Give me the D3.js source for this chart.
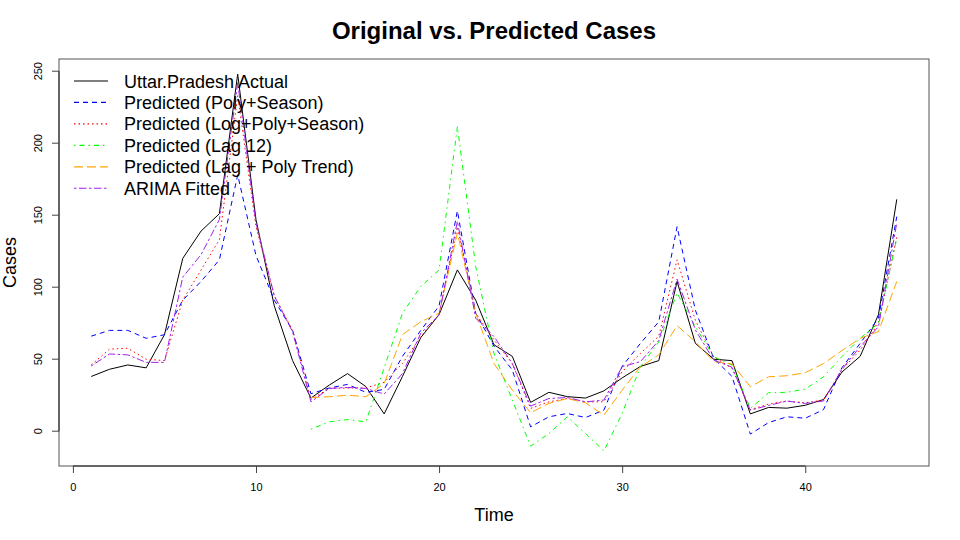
<!DOCTYPE html>
<html lang="en">
<head>
    <meta charset="UTF-8">
    <title>Original vs. Predicted Cases</title>
    <script src="https://cdn.jsdelivr.net/npm/d3@7"></script>
    <style>
        body { margin: 0; background: #fff; }
        svg { font-family: "Liberation Sans", Arial, sans-serif; }
    </style>
</head>
<body>
<div id="chart"></div>
<script>
    // time index (months)
    const time = [1,2,3,4,5,6,7,8,9,10,11,12,13,14,15,16,17,18,19,20,21,22,23,24,25,26,27,28,29,30,31,32,33,34,35,36,37,38,39,40,41,42,43,44,45]

    const actual = [38,43,46,44,67,120,139,151,248,147,87,49,23,32,40,31,12,38,65,81,112,91,60,52,20,27,24,23,28,37,45,49,104,61,50,49,12,16.5,16,18,22,41,52,81,161]
    const polySeason = [66,70,70,64.5,67,91,104,119,178,122,91,70,26,30,32.5,27,29,52,70,87,153,82,59,42.5,3,10,12.3,9.5,14.6,45,61,76,142,84,50.6,38,-2,6,10,9,15,44,61,78.5,149]
    const logPolySeason = [46,57,57.6,50,49,91,112,133,233,142,94,70,22,29.7,30,30,34,47,65.7,80.8,142,82,63.4,47,15.8,20.4,22.7,20.4,20.4,41.3,54,66,119,77,51.7,43.7,15,18.8,21,19.7,21.6,42.5,56.4,75,135]
    // lag models start once 12 months of history exist
    const lag12 = [null,null,null,null,null,null,null,null,null,null,null,null,1.4,6.5,8.1,6.5,44,82,100.5,112,211.5,114.4,54,21.6,-10.4,-1.6,10,-1.6,-13.7,12.3,44.8,62,96,72.6,51.7,46,15.8,26.7,27,29.2,37.8,51.7,64.5,75,134]
    const lagPolyTrend = [null,null,null,null,null,null,null,null,null,null,null,null,23.4,23.9,25,23.9,33,67,76,82,137.7,82,47,28.5,12.8,19.3,22.7,19.7,11.1,28.5,44.8,53,73.3,62.2,48.3,46.7,30.9,37.8,38.5,40.6,47,55.9,64.5,69.2,104]
    const arimaFitted = [45.3,53.6,53,47.8,47.8,107,122.6,147,242,144.6,94,69,20.4,29.7,30.4,29.7,25.8,40,68,80.8,145.8,78.5,65.7,47,17.4,22.7,23.4,20.4,21.6,44.8,48.3,63,105.6,70.3,49.4,44.4,14.6,17.9,20.9,19.3,21,43,58.7,72.6,144.6]

    const seriesNames = ["Uttar.Pradesh Actual","Predicted (Poly+Season)","Predicted (Log+Poly+Season)","Predicted (Lag 12)","Predicted (Lag + Poly Trend)","ARIMA Fitted"]
    const seriesColors = ["#000000","#0000ff","#ff0000","#00ff00","#ffa500","#a020f0"]
    const seriesDash = [null,"5,4","1.5,3","1.5,4,5,4","9,4","2.5,2.5,7.5,2.5"]
    const xTicks = [0,10,20,30,40]
    const yTicks = [0,50,100,150,200,250]

    const allSeries = [actual,polySeason,logPolySeason,lag12,lagPolyTrend,arimaFitted]

    const width = 960, height = 540
    const plotL = 59, plotR = 929, plotT = 59, plotB = 466

    const svg = d3.select("#chart").append("svg")
        .attr("width", width).attr("height", height)
        .attr("viewBox", `0 0 ${width} ${height}`)

    // R style 4% padding around data range
    const xr = d3.extent(time)
    const xpad = (xr[1]-xr[0])*0.04
    const x = d3.scaleLinear().domain([xr[0]-xpad, xr[1]+xpad]).range([plotL, plotR])

    const vals = allSeries.flat().filter(v => v !== null)
    const yr = d3.extent(vals)
    const ypad = (yr[1]-yr[0])*0.04
    const y = d3.scaleLinear().domain([yr[0]-ypad, yr[1]+ypad]).range([plotB, plotT])

    // lines
    const line = d3.line()
        .defined(d => d[1] !== null)
        .x(d => x(d[0]))
        .y(d => y(d[1]))

    allSeries.forEach((s,i)=>{
        svg.append("path")
            .datum(time.map((t,j)=>[t, s[j]]))
            .attr("d", line)
            .attr("fill","none")
            .attr("stroke", seriesColors[i])
            .attr("stroke-width", 1)
            .attr("stroke-dasharray", seriesDash[i])
    })

    // box
    svg.append("rect")
        .attr("x", plotL).attr("y", plotT)
        .attr("width", plotR-plotL).attr("height", plotB-plotT)
        .attr("fill","none").attr("stroke","#555").attr("stroke-width",1)

    // x axis
    const xAxis = d3.axisBottom(x).tickValues(xTicks).tickSize(7).tickPadding(10)
    const gx = svg.append("g").attr("transform",`translate(0,${plotB})`).call(xAxis)
    gx.select(".domain").attr("d", `M${x(xTicks[0])},0H${x(xTicks[xTicks.length-1])}`).attr("stroke","#222")
    gx.selectAll("text").attr("font-size", 11).attr("fill","#000").attr("font-family","Liberation Sans, Arial, sans-serif")
    gx.selectAll("line").attr("stroke","#444")

    // y axis
    const yAxis = d3.axisLeft(y).tickValues(yTicks).tickSize(7).tickPadding(10)
    const gy = svg.append("g").attr("transform",`translate(${plotL},0)`).call(yAxis)
    gy.select(".domain").attr("d", `M0,${y(yTicks[0])}V${y(yTicks[yTicks.length-1])}`).attr("stroke","#222")
    gy.selectAll("line").attr("stroke","#444")
    gy.selectAll(".tick").attr("transform", null)
    gy.selectAll(".tick line").attr("y1", d => y(d)).attr("y2", d => y(d))
    gy.selectAll("text")
        .attr("font-size", 11).attr("fill","#000").attr("font-family","Liberation Sans, Arial, sans-serif")
        .attr("x", null).attr("y", null).attr("dy", null)
        .attr("text-anchor","middle")
        .attr("transform", d => `translate(-17,${y(d)}) rotate(-90)`)

    // titles
    svg.append("text")
        .attr("x", (plotL+plotR)/2).attr("y", 39)
        .attr("text-anchor","middle")
        .attr("font-size", 24).attr("font-weight","bold")
        .text("Original vs. Predicted Cases")

    svg.append("text")
        .attr("x", (plotL+plotR)/2).attr("y", 521)
        .attr("text-anchor","middle")
        .attr("font-size", 18)
        .text("Time")

    svg.append("text")
        .attr("transform", `translate(15.5,${(plotT+plotB)/2}) rotate(-90)`)
        .attr("text-anchor","middle")
        .attr("font-size", 18)
        .text("Cases")

    // legend
    const legend = svg.append("g").attr("transform","translate(74,81)")
    seriesNames.forEach((name,i)=>{
        const row = legend.append("g").attr("transform",`translate(0,${i*21.45})`)
        row.append("line")
            .attr("x1",0).attr("x2",34).attr("y1",0).attr("y2",0)
            .attr("stroke", seriesColors[i])
            .attr("stroke-width", 1.2)
            .attr("stroke-dasharray", seriesDash[i])
        row.append("text")
            .attr("x", 50).attr("y", 6.5)
            .attr("font-size", 18)
            .text(name)
    })
</script>
</body>
</html>
